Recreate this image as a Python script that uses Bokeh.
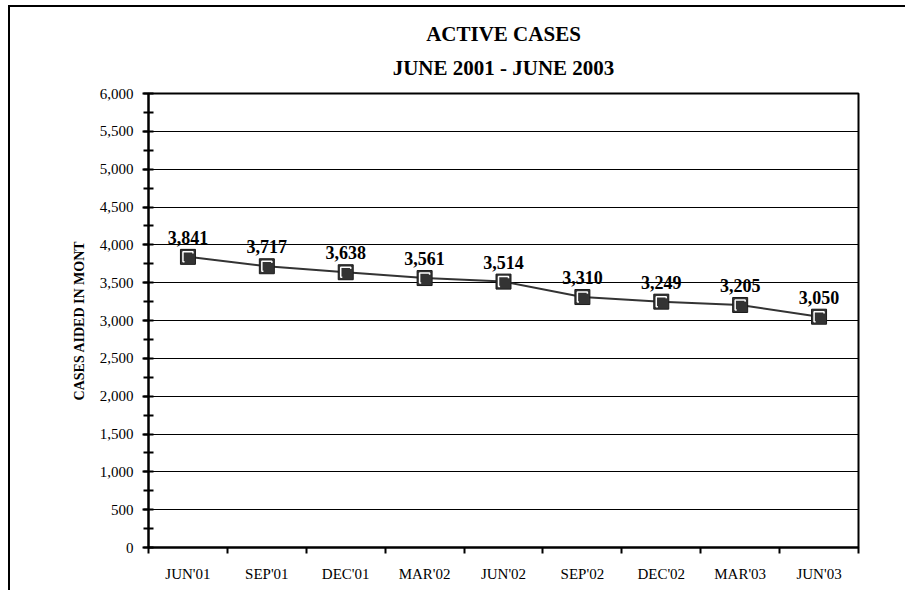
from bokeh.plotting import figure
from bokeh.models import (ColumnDataSource, Range1d, FixedTicker, SingleIntervalTicker,
                          NumeralTickFormatter, LabelSet, Title)
from bokeh.transform import dodge
from bokeh.embed import file_html
from bokeh.resources import INLINE

# ---- data ----
months = ["JUN'01", "SEP'01", "DEC'01", "MAR'02", "JUN'02", "SEP'02", "DEC'02", "MAR'03", "JUN'03"]
cases = [3841, 3717, 3638, 3561, 3514, 3310, 3249, 3205, 3050]
title_lines = ["ACTIVE CASES", "JUNE 2001 - JUNE 2003"]
y_max = 6000

x_pos = [i + 0.5 for i in range(len(months))]
labels = [f"{v:,}" for v in cases]
src = ColumnDataSource(dict(x=x_pos, y=cases, label=labels))

FONT = "Liberation Serif"

p = figure(width=897, height=585, output_backend="svg", toolbar_location=None,
           x_range=Range1d(0, len(months)), y_range=Range1d(0, y_max),
           min_border_left=138, min_border_right=49, min_border_top=86, min_border_bottom=45)
p.styles = {"border-left": "2px solid black", "border-top": "2px solid black",
            "margin-top": "5px", "margin-left": "8px"}

p.outline_line_color = "black"
p.outline_line_width = 2
p.background_fill_color = "white"
p.border_fill_color = "white"

# two-line title, centred over the plot area (nearest line added first)
for line, standoff in zip(reversed(title_lines), [27, -10]):
    p.add_layout(Title(text=line, align="center", text_font=FONT, standoff=standoff,
                       text_font_size="21px", text_font_style="bold", text_color="black"),
                 "above")

# y axis
ya = p.yaxis[0]
ya.ticker = SingleIntervalTicker(interval=500, num_minor_ticks=2)
ya.formatter = NumeralTickFormatter(format="0,0")
ya.axis_line_width = 2
ya.axis_line_color = "black"
ya.major_tick_line_width = 2
ya.major_tick_out = 6
ya.major_tick_in = 0
ya.minor_tick_line_width = 2
ya.minor_tick_out = 5
ya.minor_tick_in = 5
ya.minor_tick_line_color = "black"
ya.major_label_text_font = FONT
ya.major_label_text_font_size = "15px"
ya.major_label_text_color = "black"
ya.major_label_standoff = 9
ya.axis_label = "CASES AIDED IN MONT"
ya.axis_label_text_font = FONT
ya.axis_label_text_font_size = "14px"
ya.axis_label_text_font_style = "bold"
ya.axis_label_text_color = "black"
ya.axis_label_standoff = 10

# x axis: labels at centers, ticks at category boundaries
xa = p.xaxis[0]
xa.ticker = FixedTicker(ticks=x_pos, minor_ticks=list(range(len(months) + 1)))
xa.major_label_overrides = {x: m for x, m in zip(x_pos, months)}
xa.axis_line_width = 2
xa.axis_line_color = "black"
xa.major_tick_out = 0
xa.major_tick_in = 0
xa.minor_tick_out = 6
xa.minor_tick_in = 0
xa.minor_tick_line_width = 2
xa.minor_tick_line_color = "black"
xa.major_label_text_font = FONT
xa.major_label_text_font_size = "15px"
xa.major_label_text_color = "black"
xa.major_label_standoff = 12

p.xgrid.visible = False
p.ygrid.grid_line_color = "black"
p.ygrid.grid_line_width = 1
p.ygrid.grid_line_alpha = 1

# line and markers
p.line("x", "y", source=src, line_color="#333333", line_width=2)
p.scatter("x", "y", source=src, marker="square", size=15, fill_color="#333333",
          line_color="#1a1a1a", line_width=1)
p.scatter("x", "y", source=src, marker="square", size=10, fill_color=None,
          line_color="white", line_width=1.5)
p.scatter(dodge("x", 0.02, range=p.x_range), dodge("y", -22, range=p.y_range), source=src,
          marker="square", size=10, fill_color="#333333", line_color=None)

p.add_layout(LabelSet(x="x", y="y", text="label", source=src, y_offset=13,
                      text_align="center", text_baseline="bottom",
                      text_font=FONT, text_font_size="18px", text_font_style="bold",
                      text_color="black"))

open("out.html", "w").write(file_html(p, INLINE))
